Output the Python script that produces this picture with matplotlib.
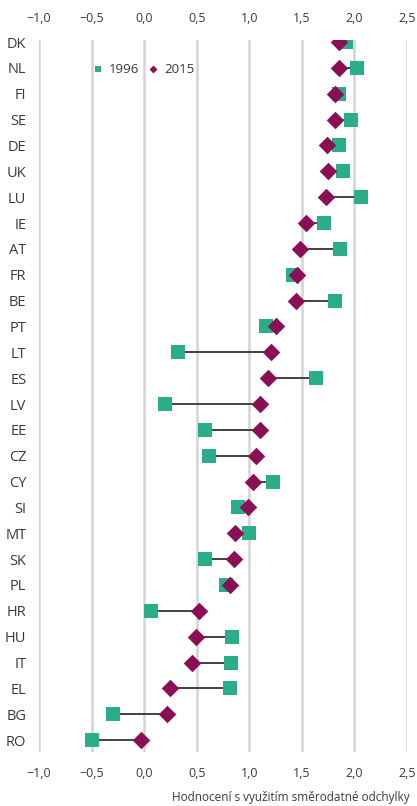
import matplotlib.pyplot as plt

plt.rcParams['font.family'] = ['Open Sans', 'DejaVu Sans']

# countries, top to bottom
countries = ['DK', 'NL', 'FI', 'SE', 'DE', 'UK', 'LU', 'IE', 'AT', 'FR', 'BE', 'PT', 'LT', 'ES',
             'LV', 'EE', 'CZ', 'CY', 'SI', 'MT', 'SK', 'PL', 'HR', 'HU', 'IT', 'EL', 'BG', 'RO']
# values 1996
v1996 = [1.92, 2.02, 1.85, 1.97, 1.85, 1.89, 2.06, 1.71, 1.86, 1.42, 1.82, 1.16, 0.32, 1.63,
         0.20, 0.58, 0.62, 1.23, 0.89, 1.00, 0.58, 0.78, 0.07, 0.84, 0.83, 0.82, -0.30, -0.50]
# values 2015
v2015 = [1.85, 1.85, 1.82, 1.82, 1.74, 1.75, 1.73, 1.54, 1.48, 1.45, 1.44, 1.25, 1.21, 1.18,
         1.10, 1.10, 1.06, 1.04, 0.99, 0.86, 0.85, 0.82, 0.52, 0.49, 0.46, 0.25, 0.22, -0.03]

xticks = [-1.0, -0.5, 0.0, 0.5, 1.0, 1.5, 2.0, 2.5]
xticklabels = [('%.1f' % t).replace('.', ',').replace('-', '\u2212') for t in xticks]

teal = '#2AAE8A'
maroon = '#8A0F55'
txt = '#3a3a3a'

fig = plt.figure(figsize=(4.17, 8.06), dpi=100)
ax = fig.add_axes([0.0935, 0.067, 0.8825, 0.8834])

ypos = list(range(len(countries)))

# connecting lines
ax.hlines(ypos, v1996, v2015, color='#333333', linewidth=1.3, zorder=2)
ax.scatter(v1996, ypos, marker='s', s=105, color=teal, zorder=3, label='1996', linewidths=0)
ax.scatter(v2015, ypos, marker='D', s=80, color=maroon, zorder=4, label='2015', linewidths=0)

ax.set_xlim(-1.0, 2.5)
ax.set_ylim(27.46, -0.08)
ax.set_xticks(xticks)
ax.set_xticklabels(xticklabels)
ax.set_yticks(ypos)
ax.set_yticklabels(countries)

ax.grid(axis='x', color='#d4d4d4', linewidth=1.8, zorder=0)
ax.set_axisbelow(True)
for s in ax.spines.values():
    s.set_visible(False)

ax.tick_params(axis='x', which='both', length=0, labelsize=9, colors=txt,
               labeltop=True, labelbottom=True, pad=11)
ax.tick_params(axis='y', length=0, labelsize=10.5, colors=txt, pad=9)

leg = ax.legend(loc='upper left', bbox_to_anchor=(0.11, 0.985), ncol=2, frameon=False,
                handletextpad=0.3, columnspacing=0.6, markerscale=0.45,
                fontsize=9.5, handlelength=1.0)
for t in leg.get_texts():
    t.set_color(txt)

fig.text(0.983, 0.003, 'Hodnocení s využitím směrodatné odchylky', ha='right', va='bottom',
         fontsize=8.5, color=txt)

fig.savefig('out.png', dpi=100)
